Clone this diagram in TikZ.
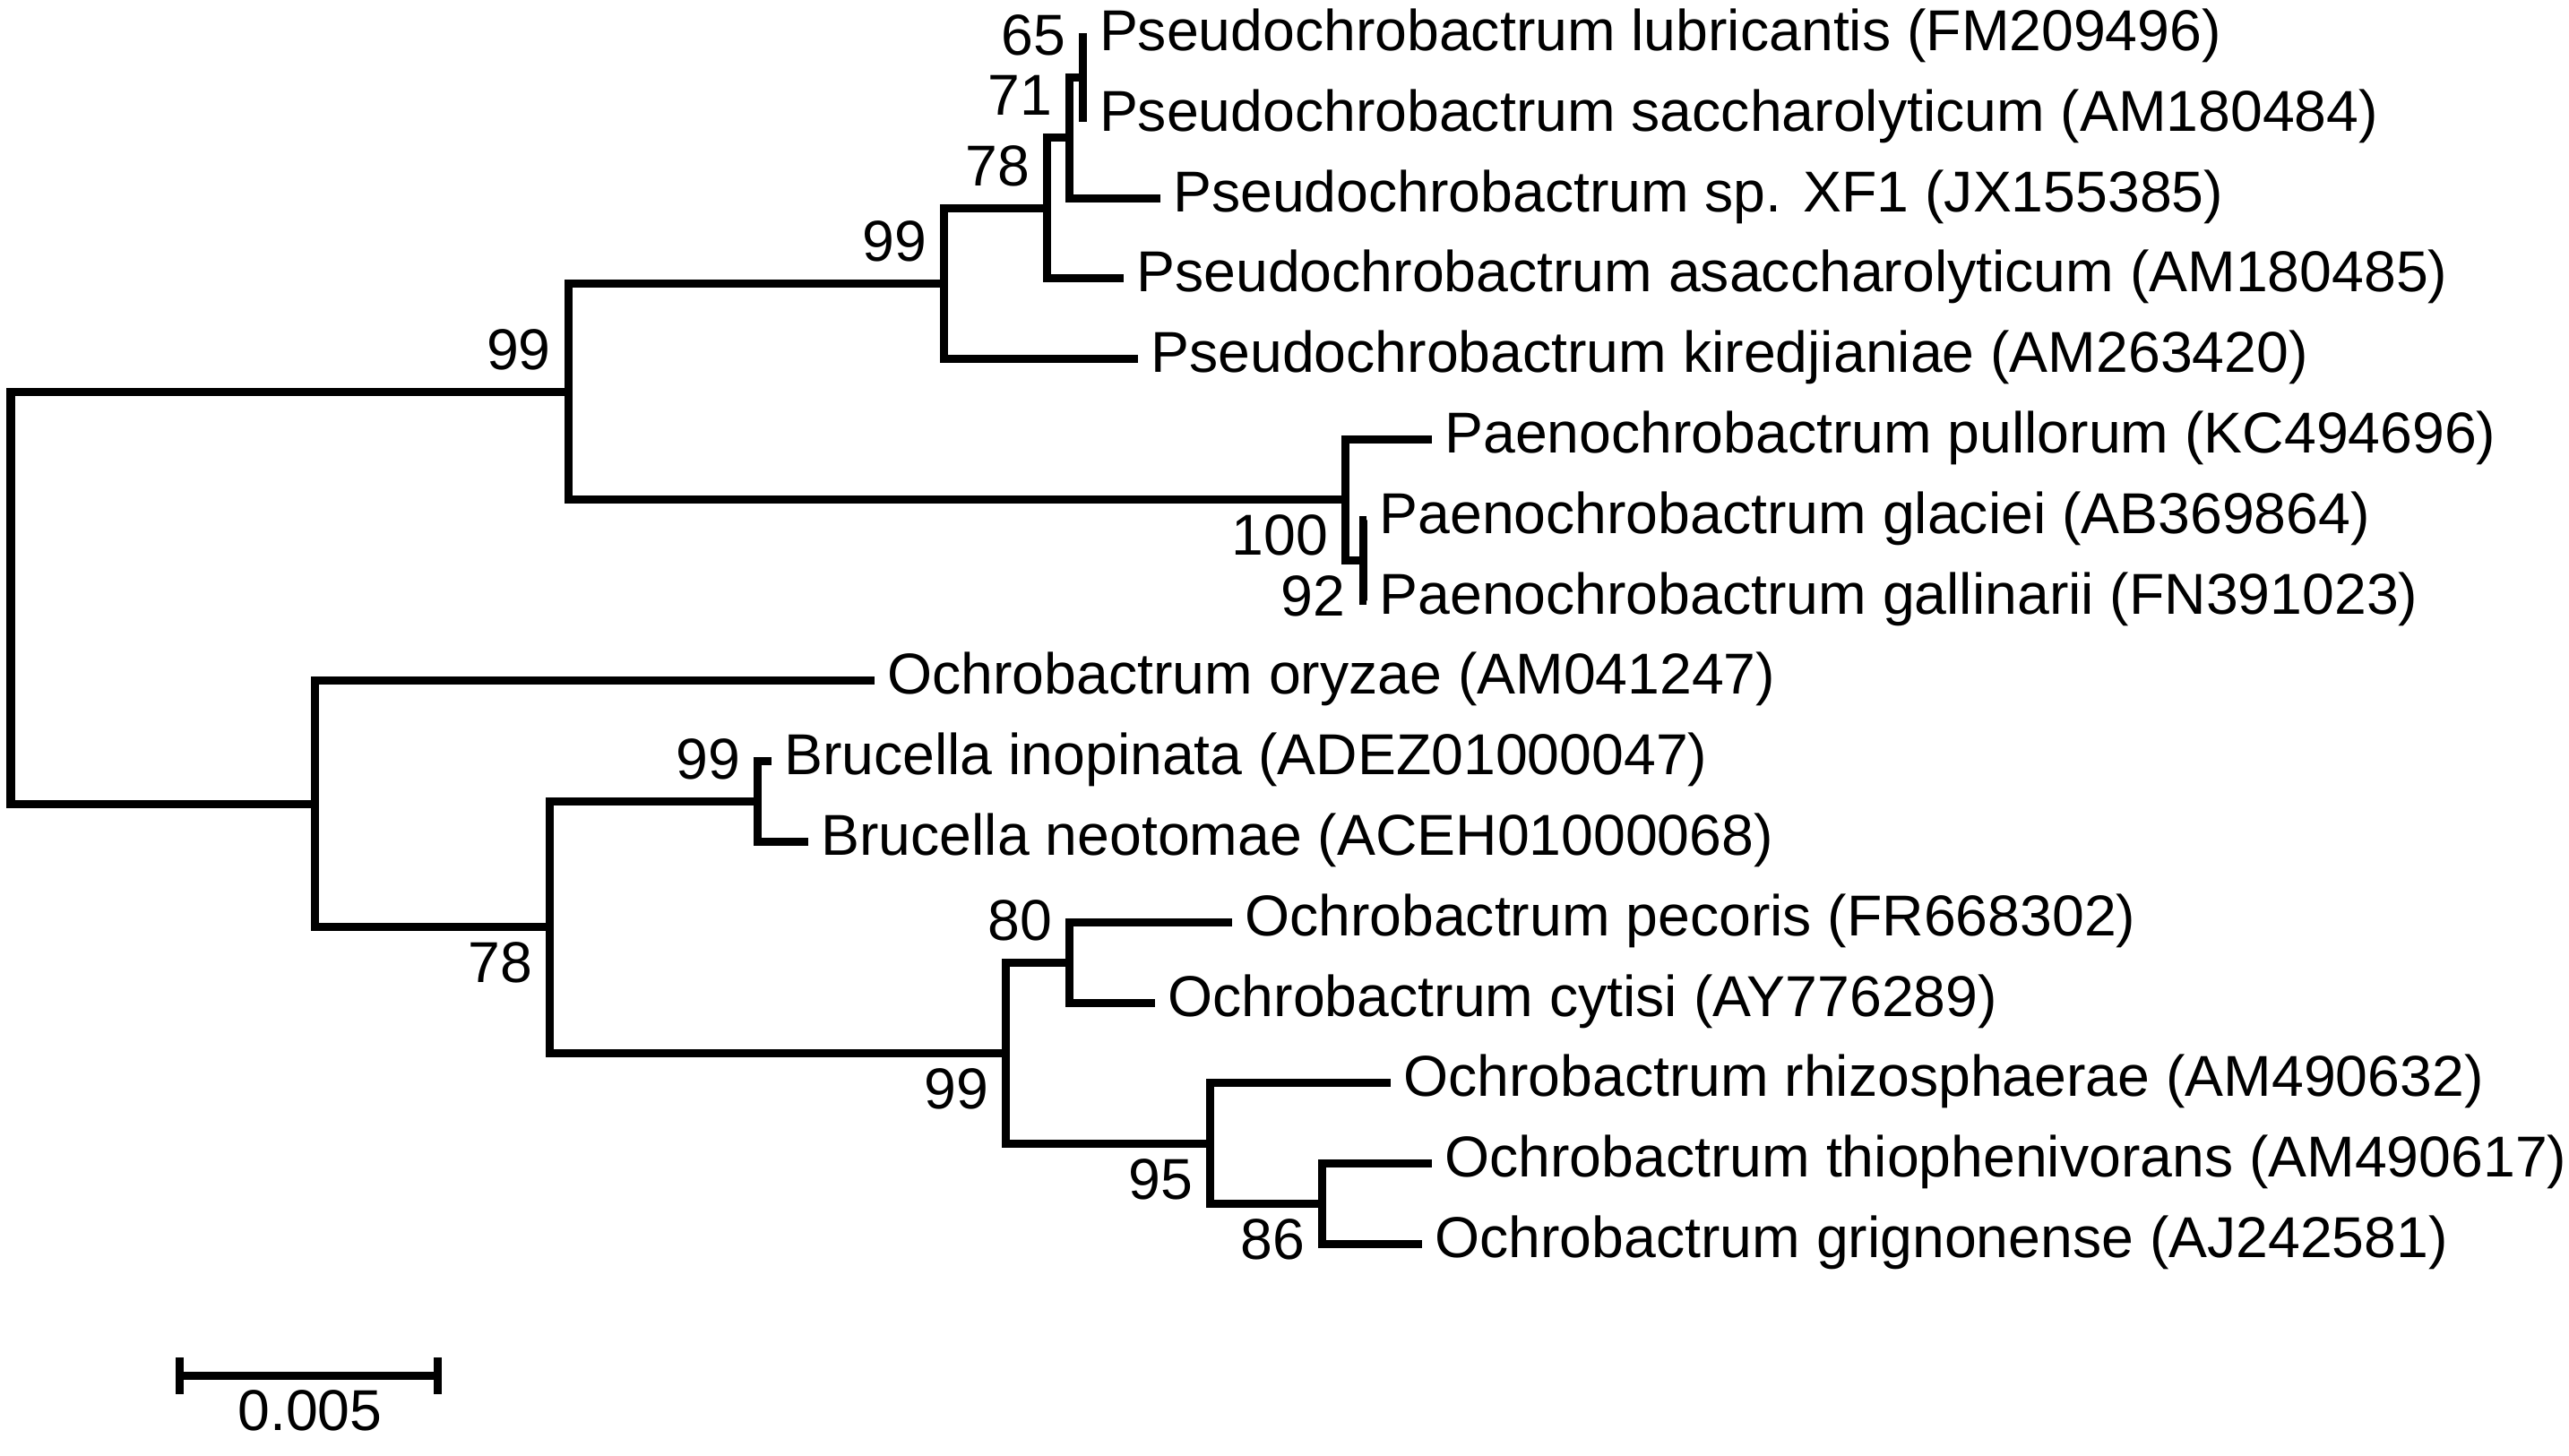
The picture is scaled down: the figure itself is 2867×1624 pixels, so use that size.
\documentclass[tikz,border=0pt]{standalone}
\usepackage{fontspec}
\setmainfont{Liberation Sans}

\begin{document}
\begin{tikzpicture}[x=0.01cm,y=-0.01cm,line width=0.09cm,
    font=\fontsize{18.3}{20}\selectfont,
    taxon/.style={anchor=base west,inner sep=0pt,xshift=0.1cm,yshift=-0.15cm},
    bsup/.style={anchor=base east,inner sep=0pt,xshift=-0.15cm,yshift=0.25cm},
    bsdown/.style={anchor=base east,inner sep=0pt,xshift=-0.15cm,yshift=-0.62cm}]
    \useasboundingbox (0,0) rectangle (2867,1624);
    % inner nodes
    \coordinate (R) at (12,667.3);
    \coordinate (A) at (634.2,437.2);
    \coordinate (B) at (1053.6,316.5);
    \coordinate (C) at (1168.3,232.3);
    \coordinate (D) at (1193.8,153.8);
    \coordinate (E) at (1208.5,86.4);
    \coordinate (F) at (1501.8,557.9);
    \coordinate (G) at (1521,625.2);
    \coordinate (N) at (351.5,897.4);
    \coordinate (P) at (613.8,1034.9);
    \coordinate (H) at (845.4,894.6);
    \coordinate (J) at (1122.6,1175.2);
    \coordinate (K) at (1193.9,1074.2);
    \coordinate (L) at (1350.6,1276.3);
    \coordinate (M) at (1475.8,1343.6);
    % tips
    \coordinate (t1) at (1212.5,41.5);
    \coordinate (t2) at (1212.5,131.3);
    \coordinate (t3) at (1294.6,221.1);
    \coordinate (t4) at (1254,310.9);
    \coordinate (t5) at (1270,400.7);
    \coordinate (t6) at (1597.8,490.5);
    \coordinate (t7) at (1525,580.3);
    \coordinate (t8) at (1525,670.1);
    \coordinate (t9) at (976,759.9);
    \coordinate (t10) at (860.7,849.7);
    \coordinate (t11) at (902,939.5);
    \coordinate (t12) at (1374.6,1029.3);
    \coordinate (t13) at (1289.2,1119.1);
    \coordinate (t14) at (1551.7,1208.9);
    \coordinate (t15) at (1598,1298.7);
    \coordinate (t16) at (1587,1388.5);
    % branches
    \draw (R) |- (A);
    \draw (R) |- (N);
    \draw (A) |- (B);
    \draw (A) |- (F);
    \draw (B) |- (C);
    \draw (B) |- (t5);
    \draw (C) |- (D);
    \draw (C) |- (t4);
    \draw (D) |- (E);
    \draw (D) |- (t3);
    \draw (E) |- (t1);
    \draw (E) |- (t2);
    \draw (F) |- (t6);
    \draw (F) |- (G);
    \draw (G) |- (t7);
    \draw (G) |- (t8);
    \draw (N) |- (t9);
    \draw (N) |- (P);
    \draw (P) |- (H);
    \draw (P) |- (J);
    \draw (H) |- (t10);
    \draw (H) |- (t11);
    \draw (J) |- (K);
    \draw (J) |- (L);
    \draw (K) |- (t12);
    \draw (K) |- (t13);
    \draw (L) |- (t14);
    \draw (L) |- (M);
    \draw (M) |- (t15);
    \draw (M) |- (t16);
    % taxa
    \node[taxon] (n1) at (t1) {Pseudochrobactrum lubricantis (FM209496)};
    \node[taxon] (n2) at (t2) {Pseudochrobactrum saccharolyticum (AM180484)};
    \node[taxon] (n3) at (t3) {Pseudochrobactrum sp. XF1 (JX155385)};
    \node[taxon] (n4) at (t4) {Pseudochrobactrum asaccharolyticum (AM180485)};
    \node[taxon] (n5) at (t5) {Pseudochrobactrum kiredjianiae (AM263420)};
    \node[taxon] (n6) at (t6) {Paenochrobactrum pullorum (KC494696)};
    \node[taxon] (n7) at (t7) {Paenochrobactrum glaciei (AB369864)};
    \node[taxon] (n8) at (t8) {Paenochrobactrum gallinarii (FN391023)};
    \node[taxon] (n9) at (t9) {Ochrobactrum oryzae (AM041247)};
    \node[taxon] (n10) at (t10) {Brucella inopinata (ADEZ01000047)};
    \node[taxon] (n11) at (t11) {Brucella neotomae (ACEH01000068)};
    \node[taxon] (n12) at (t12) {Ochrobactrum pecoris (FR668302)};
    \node[taxon] (n13) at (t13) {Ochrobactrum cytisi (AY776289)};
    \node[taxon] (n14) at (t14) {Ochrobactrum rhizosphaerae (AM490632)};
    \node[taxon] (n15) at (t15) {Ochrobactrum thiophenivorans (AM490617)};
    \node[taxon] (n16) at (t16) {Ochrobactrum grignonense (AJ242581)};
    % bootstrap values
    \node[bsup] (bA) at (A) {99};
    \node[bsup] (bB) at (B) {99};
    \node[bsup] (bC) at (C) {78};
    \node[bsup] (bD) at (D) {71};
    \node[bsup] (bE) at (E) {65};
    \node[bsdown] (bF) at (F) {100};
    \node[bsdown] (bG) at (G) {92};
    \node[bsdown] (bP) at (P) {78};
    \node[bsup] (bH) at (H) {99};
    \node[bsdown] (bJ) at (J) {99};
    \node[bsup] (bK) at (K) {80};
    \node[bsdown] (bL) at (L) {95};
    \node[bsdown] (bM) at (M) {86};
    % scale bar
    \coordinate (s1) at (200,1535.5);
    \coordinate (s2) at (488,1535.5);
    \draw (s1) -- (s2);
    \draw (200,1515) -- (200,1556);
    \draw (488,1515) -- (488,1556);
    \node[anchor=base,inner sep=0pt] (sl) at (346,1596) {0.005};
\end{tikzpicture}
\end{document}
